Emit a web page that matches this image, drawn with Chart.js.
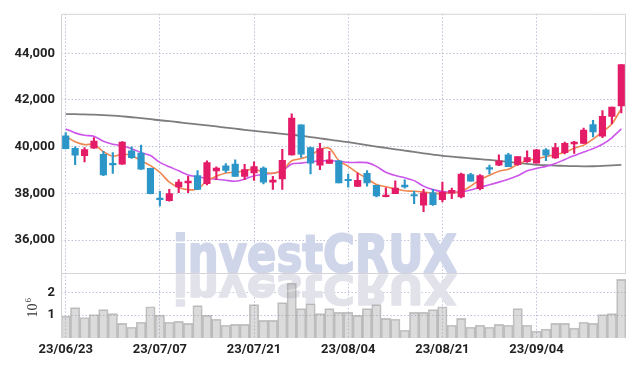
<!DOCTYPE html>
<html>
<head>
<meta charset="utf-8">
<title>Candlestick chart</title>
<script src="https://cdn.jsdelivr.net/npm/chart.js@4/dist/chart.umd.min.js"></script>
<style>
    body { margin: 0; background: #fff; }
    #wrap { width: 634px; height: 366px; position: relative; }
</style>
</head>
<body>
<div id="wrap"><canvas id="stockChart"></canvas></div>
<script>

// ==========================================
// Data
// ==========================================

const dates = [
    "23/06/23", "23/06/26", "23/06/27", "23/06/28", "23/06/29", "23/06/30",
    "23/07/03", "23/07/04", "23/07/05", "23/07/06", "23/07/07",
    "23/07/10", "23/07/11", "23/07/12", "23/07/13", "23/07/14",
    "23/07/17", "23/07/18", "23/07/19", "23/07/20", "23/07/21",
    "23/07/24", "23/07/25", "23/07/26", "23/07/27", "23/07/28",
    "23/07/31", "23/08/01", "23/08/02", "23/08/03", "23/08/04",
    "23/08/07", "23/08/08", "23/08/09", "23/08/10", "23/08/11",
    "23/08/14", "23/08/16", "23/08/17", "23/08/18", "23/08/21",
    "23/08/22", "23/08/23", "23/08/24", "23/08/25",
    "23/08/28", "23/08/29", "23/08/30", "23/08/31", "23/09/01",
    "23/09/04", "23/09/05", "23/09/06", "23/09/07", "23/09/08",
    "23/09/11", "23/09/12", "23/09/13", "23/09/14", "23/09/15"
];

const openPrices = [
    40465, 39930, 39610, 39930, 39675, 39240, 39250, 39820, 39720, 39070,
    37750, 37690, 38270, 38450, 38760, 38410, 38960, 39180, 39250, 38730,
    38870, 39085, 38480, 38620, 39650, 40930, 39960, 39210, 39280, 39395,
    38560, 38295, 38860, 38340, 37860, 37985, 38350, 37900, 37490, 38025,
    37730, 38010, 37845, 38800, 38195, 39050, 39210, 39650, 39225, 39355,
    39295, 39860, 39520, 39745, 40115, 40140, 40945, 40450, 41300, 41745
];

const highPrices = [
    40600, 39990, 39960, 40390, 39800, 39750, 40220, 39990, 40070, 39080,
    38085, 38170, 38590, 38730, 38970, 39395, 39140, 39280, 39440, 39240,
    39350, 39140, 38730, 39890, 41410, 40930, 39980, 40140, 39800, 39400,
    38830, 38870, 38970, 38340, 38240, 38535, 38575, 38085, 38170, 38170,
    38480, 38225, 38870, 38860, 38800, 39210, 39650, 39715, 39580, 39820,
    39880, 39915, 40140, 40200, 40225, 40800, 41130, 41550, 41700, 43510
];

const lowPrices = [
    39900, 39230, 39350, 39920, 38760, 38850, 39240, 39500, 39030, 37980,
    37460, 37660, 38030, 38030, 38160, 38365, 38590, 38900, 38720, 38590,
    38550, 38405, 38170, 38170, 39630, 39535, 38830, 39015, 39280, 38450,
    38265, 38290, 38310, 37845, 37850, 37985, 38225, 37560, 37210, 37480,
    37630, 37770, 37800, 38520, 38150, 38830, 39185, 39140, 39200, 39325,
    39295, 39395, 39500, 39690, 39705, 40140, 40420, 40380, 40985, 41440
];

const closePrices = [
    39915, 39630, 39870, 40240, 38790, 39220, 40200, 39530, 39040, 37985,
    37730, 37985, 38480, 38530, 38170, 39320, 39085, 38985, 38730, 39015,
    39150, 38480, 38565, 39410, 41225, 39675, 39295, 39915, 39440, 38450,
    38540, 38560, 38450, 37885, 37915, 38225, 38280, 37885, 38025, 37520,
    38055, 38125, 38830, 38520, 38760, 39035, 39395, 39140, 39580, 39535,
    39860, 39635, 39960, 40140, 40200, 40705, 40635, 41300, 41690, 43510
];

const volumes = [
    960000, 1330000, 900000, 1030000, 1240000, 1070000, 640000, 470000, 690000, 1370000,
    1000000, 690000, 730000, 640000, 1420000, 990000, 820000, 560000, 600000, 600000,
    1460000, 770000, 770000, 1550000, 2400000, 1290000, 1500000, 1070000, 1290000, 1120000,
    1120000, 990000, 1290000, 1460000, 860000, 820000, 340000, 1120000, 1120000, 1240000,
    1370000, 560000, 860000, 470000, 560000, 470000, 600000, 560000, 1290000, 560000,
    300000, 390000, 640000, 640000, 430000, 690000, 640000, 1030000, 1070000, 2570000
];

// moving averages
const ma5 = [
    40445, 40210, 40085, 40100, 39790, 39590, 39675, 39620, 39395, 39185,
    38900, 38480, 38255, 38160, 38180, 38540, 38730, 38870, 38900, 38970,
    39040, 38900, 38860, 38970, 39395, 39490, 39620, 39885, 39930, 39410,
    39155, 38880, 38635, 38375, 38280, 38190, 38110, 38090, 38055, 38010,
    37985, 38025, 38075, 38310, 38585, 38775, 38950, 39030, 39240, 39395,
    39490, 39565, 39660, 39745, 39935, 40065, 40325, 40635, 40970, 41630
];

const ma20 = [
    40760, 40590, 40485, 40450, 40230, 40105, 40040, 39915, 39745, 39620,
    39325, 39135, 38965, 38785, 38710, 38645, 38605, 38560, 38520, 38605,
    38750, 38815, 38860, 38965, 39260, 39295, 39345, 39395, 39395, 39375,
    39325, 39325, 39315, 39155, 38900, 38760, 38670, 38545, 38310, 38160,
    38075, 38045, 38055, 38140, 38265, 38365, 38480, 38605, 38750, 38965,
    39070, 39155, 39280, 39450, 39620, 39770, 39915, 40105, 40380, 40760
];

const ma120 = [
    41395, 41390, 41380, 41370, 41350, 41330, 41300, 41260, 41220, 41175,
    41130, 41090, 41045, 41000, 40955, 40910, 40865, 40815, 40770, 40720,
    40675, 40635, 40595, 40550, 40510, 40465, 40410, 40355, 40300, 40245,
    40190, 40130, 40070, 40005, 39945, 39885, 39830, 39775, 39715, 39660,
    39605, 39570, 39535, 39500, 39465, 39430, 39385, 39345, 39300, 39260,
    39220, 39205, 39190, 39175, 39165, 39155, 39160, 39175, 39195, 39220
];

const priceTicks = [36000, 38000, 40000, 42000, 44000];
const volumeTicks = [1000000, 2000000];


// ==========================================
// Helpers
// ==========================================

const UP_COLOR = "rgb(228,28,104)";
const DOWN_COLOR = "rgb(44,150,200)";

const candleColors = closePrices.map((c, i) =>
    c >= openPrices[i] ? UP_COLOR : DOWN_COLOR
);

const bodies = openPrices.map((o, i) => [o, closePrices[i]]);
const wicks = lowPrices.map((l, i) => [l, highPrices[i]]);

const tickFont = {
    family: "Roboto, 'Liberation Sans', sans-serif",
    size: 13,
    weight: "bold"
};

const gridColor = "rgba(185,190,215,0.95)";


// ==========================================
// Watermark + frame plugin
// ==========================================

const watermark = {

    id: "watermark",

    beforeDatasetsDraw(chart) {

        const ctx = chart.ctx;
        const area = chart.chartArea;
        const split = chart.scales.y.bottom;

        ctx.save();
        ctx.beginPath();
        ctx.rect(area.left, area.top, area.right - area.left, area.bottom - area.top);
        ctx.clip();

        ctx.font = "bold 52px 'DejaVu Sans', 'Liberation Sans', sans-serif";
        ctx.lineJoin = "round";
        const w = ctx.measureText("investCRUX").width;
        const sx = 284 / w;

        // reflection
        ctx.save();
        ctx.translate(173, split + 2);
        ctx.scale(sx, -0.8);
        ctx.fillStyle = "rgb(226,226,234)";
        ctx.strokeStyle = "rgb(226,226,234)";
        ctx.lineWidth = 2;
        ctx.fillText("investCRUX", 0, 0);
        ctx.strokeText("investCRUX", 0, 0);
        ctx.restore();

        // main text
        ctx.save();
        ctx.translate(173, split - 1);
        ctx.scale(sx, 1);
        ctx.fillStyle = "rgb(208,214,234)";
        ctx.strokeStyle = "rgb(208,214,234)";
        ctx.lineWidth = 2;
        ctx.fillText("investCRUX", 0, 0);
        ctx.strokeText("investCRUX", 0, 0);
        ctx.restore();

        ctx.restore();
    },

    afterDraw(chart) {

        const ctx = chart.ctx;
        const area = chart.chartArea;
        const split = chart.scales.y.bottom;
        const vol = chart.scales.yVol;

        // frame
        ctx.save();
        ctx.strokeStyle = "#d4d4d8";
        ctx.lineWidth = 1;
        ctx.beginPath();
        ctx.moveTo(area.left + 0.5, area.bottom);
        ctx.lineTo(area.left + 0.5, area.top + 0.5);
        ctx.lineTo(area.right - 0.5, area.top + 0.5);
        ctx.lineTo(area.right - 0.5, split);
        ctx.moveTo(area.left, Math.round(split) + 0.5);
        ctx.lineTo(area.right, Math.round(split) + 0.5);
        ctx.stroke();

        // 10^6 unit label
        ctx.fillStyle = "#333";
        ctx.translate(37, (vol.top + vol.bottom) / 2 + 12);
        ctx.rotate(-Math.PI / 2);
        ctx.textBaseline = "alphabetic";
        ctx.font = "14px 'Liberation Serif', serif";
        ctx.fillText("10", 0, 0);
        const tw = ctx.measureText("10").width;
        ctx.font = "9px 'Liberation Serif', serif";
        ctx.fillText("6", tw + 1, -6);
        ctx.restore();
    }
};


// ==========================================
// Chart
// ==========================================

function loadStockChart() {

    const ctx = document.getElementById("stockChart");

    new Chart(ctx, {

        type: "bar",

        data: {

            labels: dates,

            datasets: [
                {
                    label: "Wick",
                    data: wicks,
                    backgroundColor: candleColors,
                    barThickness: 1.5,
                    grouped: false,
                    yAxisID: "y",
                    order: 1
                },
                {
                    label: "Body",
                    data: bodies,
                    backgroundColor: candleColors,
                    barThickness: 6.5,
                    minBarLength: 1.5,
                    grouped: false,
                    yAxisID: "y",
                    order: 0
                },
                {
                    type: "line",
                    label: "MA5",
                    data: ma5,
                    borderColor: "rgb(240,135,80)",
                    borderWidth: 1.6,
                    pointRadius: 0,
                    tension: 0.25,
                    yAxisID: "y",
                    order: 2
                },
                {
                    type: "line",
                    label: "MA20",
                    data: ma20,
                    borderColor: "rgb(205,85,235)",
                    borderWidth: 1.6,
                    pointRadius: 0,
                    tension: 0.25,
                    yAxisID: "y",
                    order: 3
                },
                {
                    type: "line",
                    label: "MA120",
                    data: ma120,
                    borderColor: "rgb(125,125,125)",
                    borderWidth: 1.8,
                    pointRadius: 0,
                    tension: 0.25,
                    yAxisID: "y",
                    order: 4
                },
                {
                    label: "Volume",
                    data: volumes,
                    backgroundColor: "rgba(160,160,160,0.38)",
                    borderColor: "rgba(150,150,150,0.55)",
                    borderWidth: 1,
                    barPercentage: 1,
                    categoryPercentage: 1,
                    grouped: false,
                    yAxisID: "yVol",
                    order: 5
                }
            ]
        },

        options: {

            responsive: true,
            maintainAspectRatio: false,
            animation: false,

            layout: {
                padding: { top: 9, right: 8, left: 0, bottom: 0 }
            },

            plugins: {
                legend: { display: false },
                tooltip: { enabled: false }
            },

            scales: {

                x: {
                    offset: true,
                    grid: {
                        offset: false,
                        color: gridColor,
                        drawTicks: false
                    },
                    border: { display: false, dash: [1.5, 2] },
                    ticks: {
                        autoSkip: false,
                        maxRotation: 0,
                        padding: 4,
                        color: "#222",
                        font: tickFont,
                        callback: (val, idx) => idx % 10 === 0 ? dates[idx] : null
                    },
                    afterFit(scale) { scale.height = 28; }
                },

                yVol: {
                    position: "left",
                    stack: "panes",
                    stackWeight: 66,
                    min: 0,
                    max: 2850000,
                    grid: { color: gridColor, drawTicks: false },
                    border: { display: false, dash: [1.5, 2] },
                    afterBuildTicks(scale) {
                        scale.ticks = volumeTicks.map(v => ({ value: v }));
                    },
                    ticks: {
                        padding: 6,
                        color: "#222",
                        font: tickFont,
                        callback: v => String(v / 1000000)
                    },
                    afterFit(scale) { scale.width = 61; }
                },

                y: {
                    position: "left",
                    stack: "panes",
                    stackWeight: 263,
                    min: 34590,
                    max: 45690,
                    grid: { color: gridColor, drawTicks: false },
                    border: { display: false, dash: [1.5, 2] },
                    afterBuildTicks(scale) {
                        scale.ticks = priceTicks.map(v => ({ value: v }));
                    },
                    ticks: {
                        padding: 6,
                        color: "#222",
                        font: tickFont,
                        callback: v => v.toLocaleString("en-US")
                    },
                    afterFit(scale) { scale.width = 61; }
                }
            }
        },

        plugins: [watermark]
    });
}

loadStockChart();

</script>
</body>
</html>
